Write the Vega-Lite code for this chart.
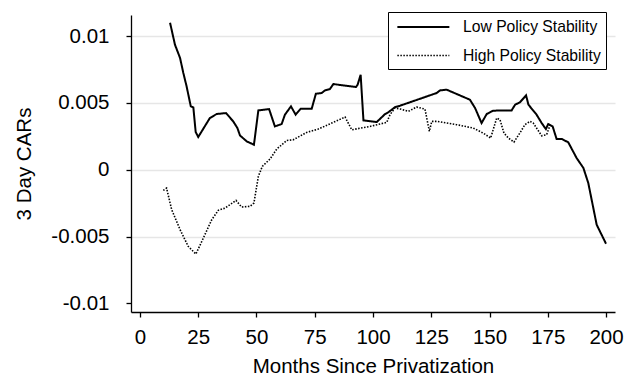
{
  "$schema": "https://vega.github.io/schema/vega-lite/v6.json",
  "width": 484,
  "height": 297,
  "autosize": "none",
  "padding": {"left": 131, "top": 15, "right": 12, "bottom": 64},
  "background": "white",
  "data": {
    "values": [
      {"series": "Low Policy Stability", "month": 12.9, "car": 0.0110},
      {"series": "Low Policy Stability", "month": 15, "car": 0.00936},
      {"series": "Low Policy Stability", "month": 17.2, "car": 0.00836},
      {"series": "Low Policy Stability", "month": 18.6, "car": 0.00724},
      {"series": "Low Policy Stability", "month": 20, "car": 0.00624},
      {"series": "Low Policy Stability", "month": 21.8, "car": 0.00474},
      {"series": "Low Policy Stability", "month": 22.9, "car": 0.00466},
      {"series": "Low Policy Stability", "month": 23.9, "car": 0.00282},
      {"series": "Low Policy Stability", "month": 25, "car": 0.00245},
      {"series": "Low Policy Stability", "month": 30, "car": 0.00387},
      {"series": "Low Policy Stability", "month": 32.9, "car": 0.00417},
      {"series": "Low Policy Stability", "month": 36.9, "car": 0.00424},
      {"series": "Low Policy Stability", "month": 40, "car": 0.00362},
      {"series": "Low Policy Stability", "month": 41.8, "car": 0.00312},
      {"series": "Low Policy Stability", "month": 42.9, "car": 0.00257},
      {"series": "Low Policy Stability", "month": 45.8, "car": 0.00212},
      {"series": "Low Policy Stability", "month": 48.9, "car": 0.00187},
      {"series": "Low Policy Stability", "month": 50.8, "car": 0.00444},
      {"series": "Low Policy Stability", "month": 55.4, "car": 0.00454},
      {"series": "Low Policy Stability", "month": 57.9, "car": 0.00324},
      {"series": "Low Policy Stability", "month": 60.8, "car": 0.00342},
      {"series": "Low Policy Stability", "month": 62.2, "car": 0.00412},
      {"series": "Low Policy Stability", "month": 64.8, "car": 0.00474},
      {"series": "Low Policy Stability", "month": 66.8, "car": 0.00412},
      {"series": "Low Policy Stability", "month": 69, "car": 0.00457},
      {"series": "Low Policy Stability", "month": 73.7, "car": 0.00457},
      {"series": "Low Policy Stability", "month": 75.5, "car": 0.00569},
      {"series": "Low Policy Stability", "month": 78, "car": 0.00574},
      {"series": "Low Policy Stability", "month": 79.4, "car": 0.00594},
      {"series": "Low Policy Stability", "month": 81.5, "car": 0.00604},
      {"series": "Low Policy Stability", "month": 83, "car": 0.00641},
      {"series": "Low Policy Stability", "month": 92.7, "car": 0.00619},
      {"series": "Low Policy Stability", "month": 93.4, "car": 0.00636},
      {"series": "Low Policy Stability", "month": 94.7, "car": 0.00711},
      {"series": "Low Policy Stability", "month": 95.9, "car": 0.00369},
      {"series": "Low Policy Stability", "month": 101.6, "car": 0.00357},
      {"series": "Low Policy Stability", "month": 105.2, "car": 0.00417},
      {"series": "Low Policy Stability", "month": 106.6, "car": 0.00430},
      {"series": "Low Policy Stability", "month": 109.4, "car": 0.00468},
      {"series": "Low Policy Stability", "month": 111.6, "car": 0.00479},
      {"series": "Low Policy Stability", "month": 127.3, "car": 0.00574},
      {"series": "Low Policy Stability", "month": 128.8, "car": 0.00594},
      {"series": "Low Policy Stability", "month": 131.6, "car": 0.00599},
      {"series": "Low Policy Stability", "month": 141.6, "car": 0.00524},
      {"series": "Low Policy Stability", "month": 143.8, "car": 0.00462},
      {"series": "Low Policy Stability", "month": 146.6, "car": 0.00349},
      {"series": "Low Policy Stability", "month": 148.8, "car": 0.00417},
      {"series": "Low Policy Stability", "month": 151.6, "car": 0.00442},
      {"series": "Low Policy Stability", "month": 159.5, "car": 0.00444},
      {"series": "Low Policy Stability", "month": 161, "car": 0.00487},
      {"series": "Low Policy Stability", "month": 163, "car": 0.00504},
      {"series": "Low Policy Stability", "month": 165.7, "car": 0.00556},
      {"series": "Low Policy Stability", "month": 166.7, "car": 0.00487},
      {"series": "Low Policy Stability", "month": 170.2, "car": 0.00412},
      {"series": "Low Policy Stability", "month": 172.4, "car": 0.00349},
      {"series": "Low Policy Stability", "month": 174.2, "car": 0.00304},
      {"series": "Low Policy Stability", "month": 175.2, "car": 0.00342},
      {"series": "Low Policy Stability", "month": 177.1, "car": 0.00324},
      {"series": "Low Policy Stability", "month": 178.8, "car": 0.00230},
      {"series": "Low Policy Stability", "month": 181, "car": 0.00230},
      {"series": "Low Policy Stability", "month": 183.8, "car": 0.00205},
      {"series": "Low Policy Stability", "month": 187.4, "car": 0.00087},
      {"series": "Low Policy Stability", "month": 190.3, "car": 0.00013},
      {"series": "Low Policy Stability", "month": 192.4, "car": -0.00100},
      {"series": "Low Policy Stability", "month": 196, "car": -0.00412},
      {"series": "Low Policy Stability", "month": 200, "car": -0.00554},
      {"series": "High Policy Stability", "month": 10, "car": -0.00155},
      {"series": "High Policy Stability", "month": 11.4, "car": -0.00137},
      {"series": "High Policy Stability", "month": 13.6, "car": -0.00299},
      {"series": "High Policy Stability", "month": 17.2, "car": -0.00449},
      {"series": "High Policy Stability", "month": 20.7, "car": -0.00574},
      {"series": "High Policy Stability", "month": 24, "car": -0.00631},
      {"series": "High Policy Stability", "month": 27.2, "car": -0.00511},
      {"series": "High Policy Stability", "month": 30.8, "car": -0.00374},
      {"series": "High Policy Stability", "month": 33.6, "car": -0.00304},
      {"series": "High Policy Stability", "month": 36.5, "car": -0.00287},
      {"series": "High Policy Stability", "month": 41.2, "car": -0.00230},
      {"series": "High Policy Stability", "month": 43.6, "car": -0.00279},
      {"series": "High Policy Stability", "month": 47.2, "car": -0.00274},
      {"series": "High Policy Stability", "month": 48.9, "car": -0.00249},
      {"series": "High Policy Stability", "month": 50.8, "car": -0.00050},
      {"series": "High Policy Stability", "month": 52.5, "car": 0.00025},
      {"series": "High Policy Stability", "month": 55.8, "car": 0.00080},
      {"series": "High Policy Stability", "month": 58.7, "car": 0.00155},
      {"series": "High Policy Stability", "month": 63, "car": 0.00219},
      {"series": "High Policy Stability", "month": 65.8, "car": 0.00224},
      {"series": "High Policy Stability", "month": 71.5, "car": 0.00279},
      {"series": "High Policy Stability", "month": 76.5, "car": 0.00304},
      {"series": "High Policy Stability", "month": 82.3, "car": 0.00349},
      {"series": "High Policy Stability", "month": 88, "car": 0.00394},
      {"series": "High Policy Stability", "month": 90.9, "car": 0.00299},
      {"series": "High Policy Stability", "month": 98.7, "car": 0.00324},
      {"series": "High Policy Stability", "month": 105.9, "car": 0.00354},
      {"series": "High Policy Stability", "month": 107.3, "car": 0.00412},
      {"series": "High Policy Stability", "month": 109.4, "car": 0.00462},
      {"series": "High Policy Stability", "month": 111.6, "car": 0.00455},
      {"series": "High Policy Stability", "month": 115.2, "car": 0.00437},
      {"series": "High Policy Stability", "month": 118.7, "car": 0.00469},
      {"series": "High Policy Stability", "month": 122.3, "car": 0.00454},
      {"series": "High Policy Stability", "month": 124.2, "car": 0.00287},
      {"series": "High Policy Stability", "month": 125.2, "car": 0.00362},
      {"series": "High Policy Stability", "month": 127.3, "car": 0.00362},
      {"series": "High Policy Stability", "month": 135.9, "car": 0.00337},
      {"series": "High Policy Stability", "month": 143, "car": 0.00312},
      {"series": "High Policy Stability", "month": 147.3, "car": 0.00274},
      {"series": "High Policy Stability", "month": 150.5, "car": 0.00237},
      {"series": "High Policy Stability", "month": 153.1, "car": 0.00387},
      {"series": "High Policy Stability", "month": 154.5, "car": 0.00374},
      {"series": "High Policy Stability", "month": 156.2, "car": 0.00274},
      {"series": "High Policy Stability", "month": 158.1, "car": 0.00237},
      {"series": "High Policy Stability", "month": 160.5, "car": 0.00207},
      {"series": "High Policy Stability", "month": 163, "car": 0.00274},
      {"series": "High Policy Stability", "month": 165.2, "car": 0.00337},
      {"series": "High Policy Stability", "month": 167.4, "car": 0.00362},
      {"series": "High Policy Stability", "month": 168.8, "car": 0.00349},
      {"series": "High Policy Stability", "month": 170.5, "car": 0.00304},
      {"series": "High Policy Stability", "month": 172.4, "car": 0.00254},
      {"series": "High Policy Stability", "month": 174.5, "car": 0.00262},
      {"series": "High Policy Stability", "month": 175.7, "car": 0.00319},
      {"series": "High Policy Stability", "month": 176, "car": 0.00337}
    ]
  },
  "mark": {"type": "line", "interpolate": "linear", "color": "black"},
  "encoding": {
    "x": {
      "field": "month",
      "type": "quantitative",
      "scale": {"domain": [-3.86, 203.86], "nice": false, "zero": false},
      "axis": {"values": [0, 25, 50, 75, 100, 125, 150, 175, 200], "title": "Months Since Privatization", "grid": false}
    },
    "y": {
      "field": "car",
      "type": "quantitative",
      "scale": {"domain": [-0.01065, 0.01158], "nice": false, "zero": false},
      "axis": {
        "values": [-0.01, -0.005, 0, 0.005, 0.01],
        "labelExpr": "'' + datum.value",
        "title": "3 Day CARs",
        "grid": true,
        "gridOpacity": {"condition": {"test": "datum.value < -0.009", "value": 0}, "value": 1}
      }
    },
    "strokeDash": {
      "field": "series",
      "type": "nominal",
      "scale": {"domain": ["Low Policy Stability", "High Policy Stability"], "range": [[1, 0], [1.5, 1.5]]},
      "legend": {
        "orient": "none",
        "legendX": 257,
        "legendY": -3,
        "title": null,
        "symbolType": "M-0.65,0H5.35",
        "symbolSize": 300.4,
        "symbolStrokeColor": "black",
        "symbolFillColor": "transparent",
        "symbolStrokeWidth": 1.5,
        "labelFont": "Liberation Sans",
        "labelFontSize": 15.7,
        "labelColor": "black",
        "labelOffset": 50,
        "strokeColor": "black",
        "fillColor": "white",
        "padding": 5,
        "rowPadding": 11
      }
    },
    "strokeWidth": {
      "field": "series",
      "type": "nominal",
      "scale": {"domain": ["Low Policy Stability", "High Policy Stability"], "range": [2, 1.6]},
      "legend": null
    }
  },
  "config": {
    "view": {"stroke": null},
    "axis": {
      "domainColor": "black",
      "domainWidth": 1.3,
      "tickColor": "black",
      "tickWidth": 1.3,
      "tickSize": 5,
      "labelFlush": false,
      "labelFont": "Liberation Sans",
      "labelFontSize": 20.5,
      "labelColor": "black",
      "titleFont": "Liberation Sans",
      "titleFontSize": 20.5,
      "titleFontWeight": "normal",
      "titleColor": "black",
      "gridColor": "#e6e6e6",
      "gridWidth": 1.3
    },
    "axisX": {"labelPadding": 10, "titlePadding": 9},
    "axisY": {"labelPadding": 17, "titlePadding": 16}
  }
}
